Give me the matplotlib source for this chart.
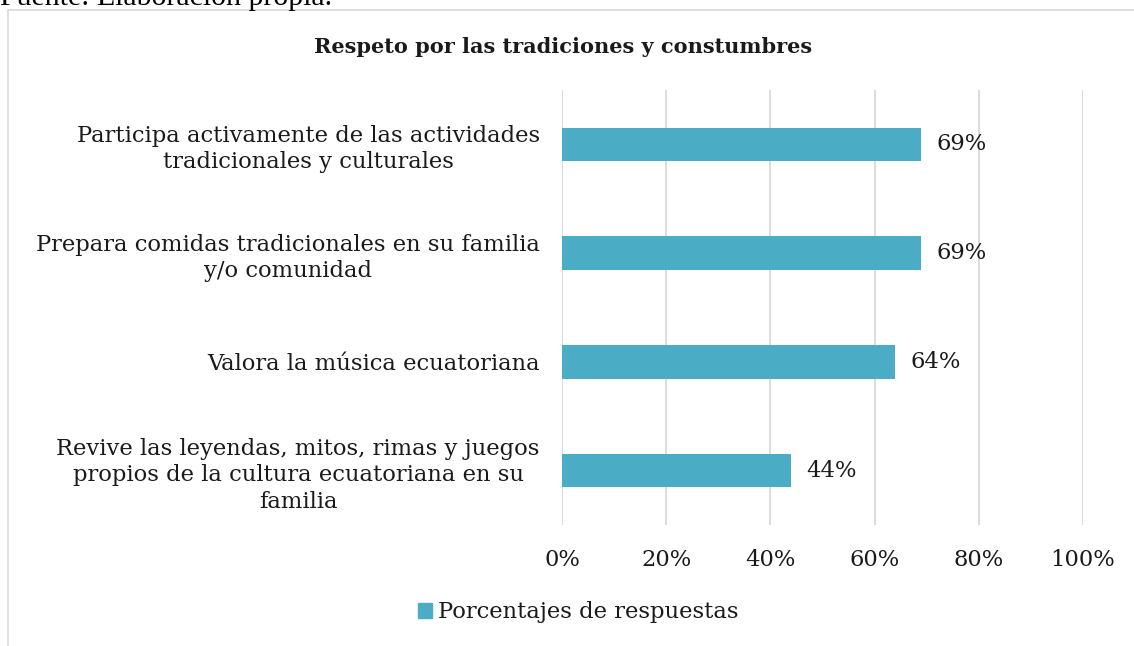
import numpy as np
import matplotlib as mpl
mpl.use('Agg')
import matplotlib.pyplot as plt
from matplotlib.patches import Rectangle

categorias = [
    "Participa activamente de las actividades\ntradicionales y culturales",
    "Prepara comidas tradicionales en su familia\ny/o comunidad",
    "Valora la música ecuatoriana",
    "Revive las leyendas, mitos, rimas y juegos\npropios de la cultura ecuatoriana en su\nfamilia",
]
porcentajes = [69, 69, 64, 44]
ticks = [0, 20, 40, 60, 80, 100]
tick_labels = ["0%", "20%", "40%", "60%", "80%", "100%"]
serie = "Porcentajes de respuestas"
titulo = "Respeto por las tradiciones y constumbres"

bar_color = "#4BACC6"
font = "DejaVu Serif"
fs = 16.3

fig = plt.figure(figsize=(11.34, 6.46), dpi=100)
ax = fig.add_axes([562/1134, 1-525/646, (1083-562)/1134, (525-90)/646])

y = np.arange(len(categorias))
ax.barh(y, porcentajes, height=0.31, color=bar_color, zorder=3)
for yi, v in zip(y, porcentajes):
    ax.text(v + 2.8, yi, "{}%".format(v), va="center", ha="left",
            fontsize=fs, family=font, color="#1a1a1a")

ax.set_xlim(0, 100)
ax.set_ylim(len(categorias) - 0.5, -0.5)
ax.set_xticks(ticks)
ax.set_xticklabels(tick_labels, family=font, fontsize=fs, color="#1a1a1a")
ax.set_yticks(y)
ax.set_yticklabels(categorias, family=font, fontsize=fs, color="#1a1a1a",
                   multialignment="center", linespacing=1.25)
ax.tick_params(axis="both", length=0)
ax.tick_params(axis="x", pad=17)
ax.tick_params(axis="y", pad=16)
ax.grid(axis="x", color="#D9D9D9", linewidth=1.3, zorder=0)
for s in ax.spines.values():
    s.set_visible(False)

fig.text(563/1134, 1-47/646, titulo, ha="center", va="center",
         fontsize=15, fontweight="bold", family=font, color="#1a1a1a")

# legend
fig.patches.append(Rectangle((418/1134, 1-618/646), 14/1134, 15/646,
                             transform=fig.transFigure, color=bar_color))
fig.text(438/1134, 1-612/646, serie, ha="left", va="center",
         fontsize=fs, family=font, color="#1a1a1a")

# chart border
fig.patches.append(Rectangle((8/1134, -0.05), 1.2, 1-10/646 + 0.05,
                             transform=fig.transFigure, fill=False,
                             edgecolor="#D9D9D9", linewidth=1.2))
fig.text(0.0, 1-5/646, "Fuente: Elaboración propia.", ha="left", va="baseline",
         fontsize=21.5, family="Liberation Serif", color="black")

plt.savefig("out.png", dpi=100)
plt.close(fig)
